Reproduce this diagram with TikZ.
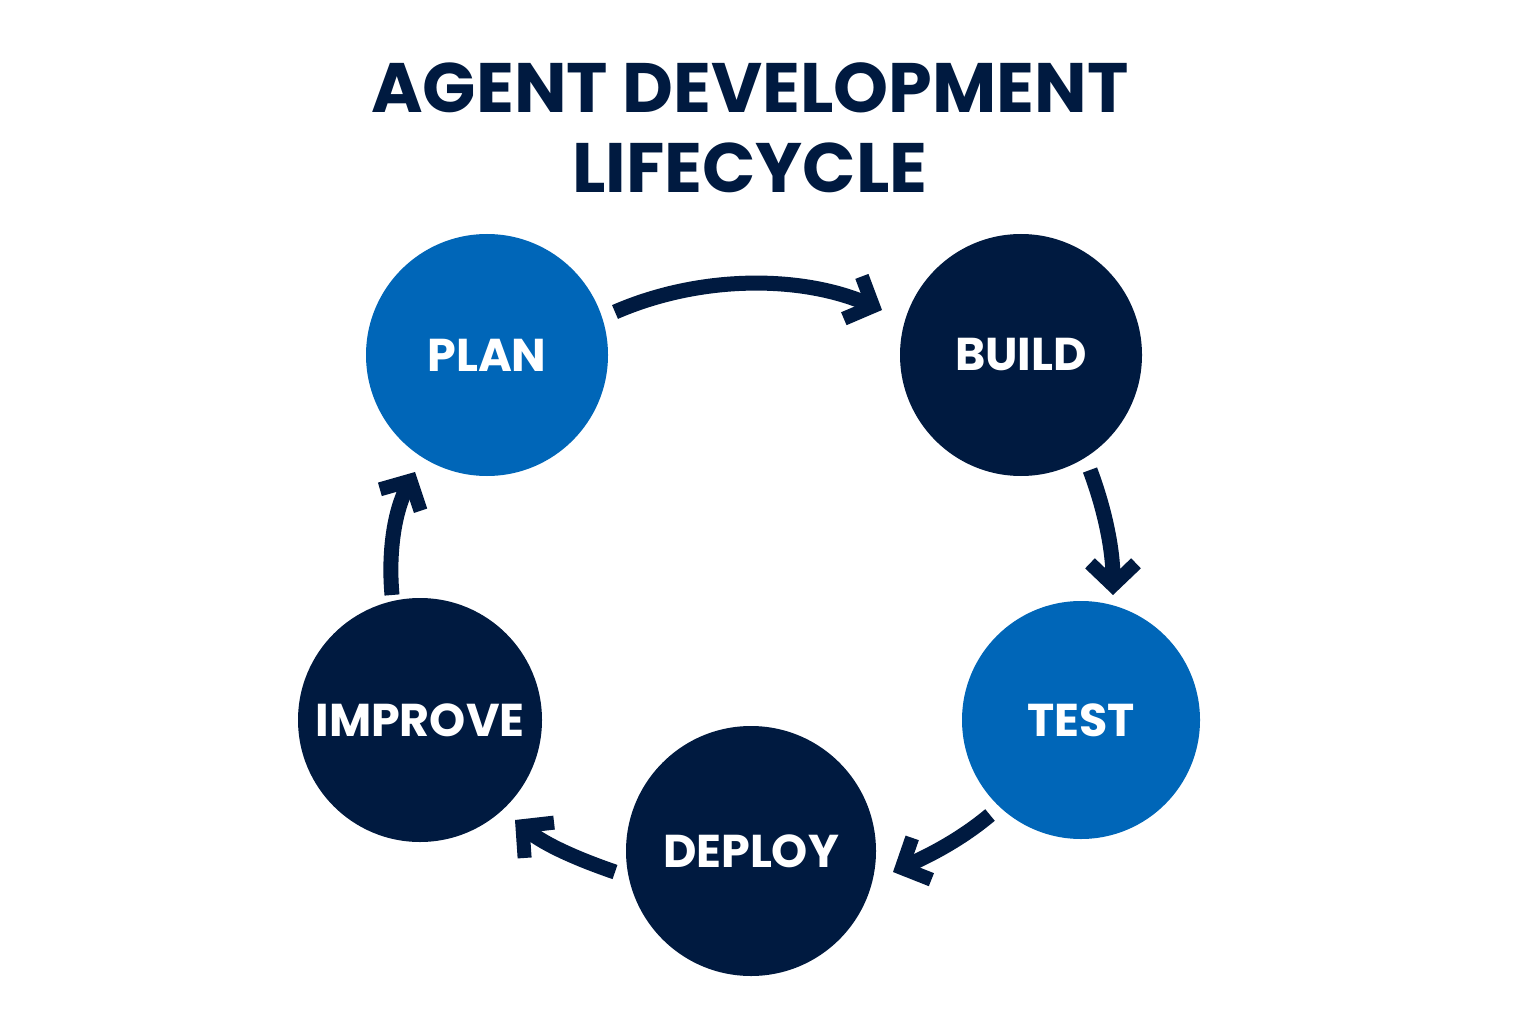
\documentclass[tikz,border=0pt]{standalone}
\usepackage{fontspec}
\setmainfont{Poppins}
\usetikzlibrary{arrows.meta}
\definecolor{navy}{HTML}{001A40}
\definecolor{blu}{HTML}{0066B8}
\begin{document}
\begin{tikzpicture}[x=1pt,y=-1pt,
  stage/.style={circle,minimum size=242pt,inner sep=0pt,text=white,font=\fontsize{46}{50}\selectfont\bfseries},
  flow/.style={navy,line width=15pt,-{Straight Barb[length=22pt,width=46pt,line width=14pt]}}]
\useasboundingbox[fill=white] (0,0) rectangle (1536,1024);
\node[navy,align=center,font=\fontsize{70}{80}\selectfont\bfseries] (title) at (750,128) {AGENT DEVELOPMENT\\LIFECYCLE};
\node[stage,fill=blu] (plan) at (487,355) {PLAN};
\node[stage,fill=navy] (build) at (1021,355) {BUILD};
\node[stage,fill=blu,minimum size=238pt] (test) at (1081,720) {TEST};
\node[stage,fill=navy,minimum size=250pt] (deploy) at (751,851) {DEPLOY};
\node[stage,fill=navy,minimum size=244pt] (improve) at (420,720) {IMPROVE};
\draw[flow] (615,312) .. controls (700,275) and (800,275) .. (882,310);
\draw[flow] (1090,470) .. controls (1105,510) and (1113,550) .. (1113,595);
\draw[flow] (990,815) .. controls (960,840) and (930,855) .. (893,872);
\draw[flow] (615,872) .. controls (580,860) and (545,845) .. (515,820);
\draw[flow] (392,595) .. controls (388,550) and (395,510) .. (415,472);
\end{tikzpicture}
\end{document}
